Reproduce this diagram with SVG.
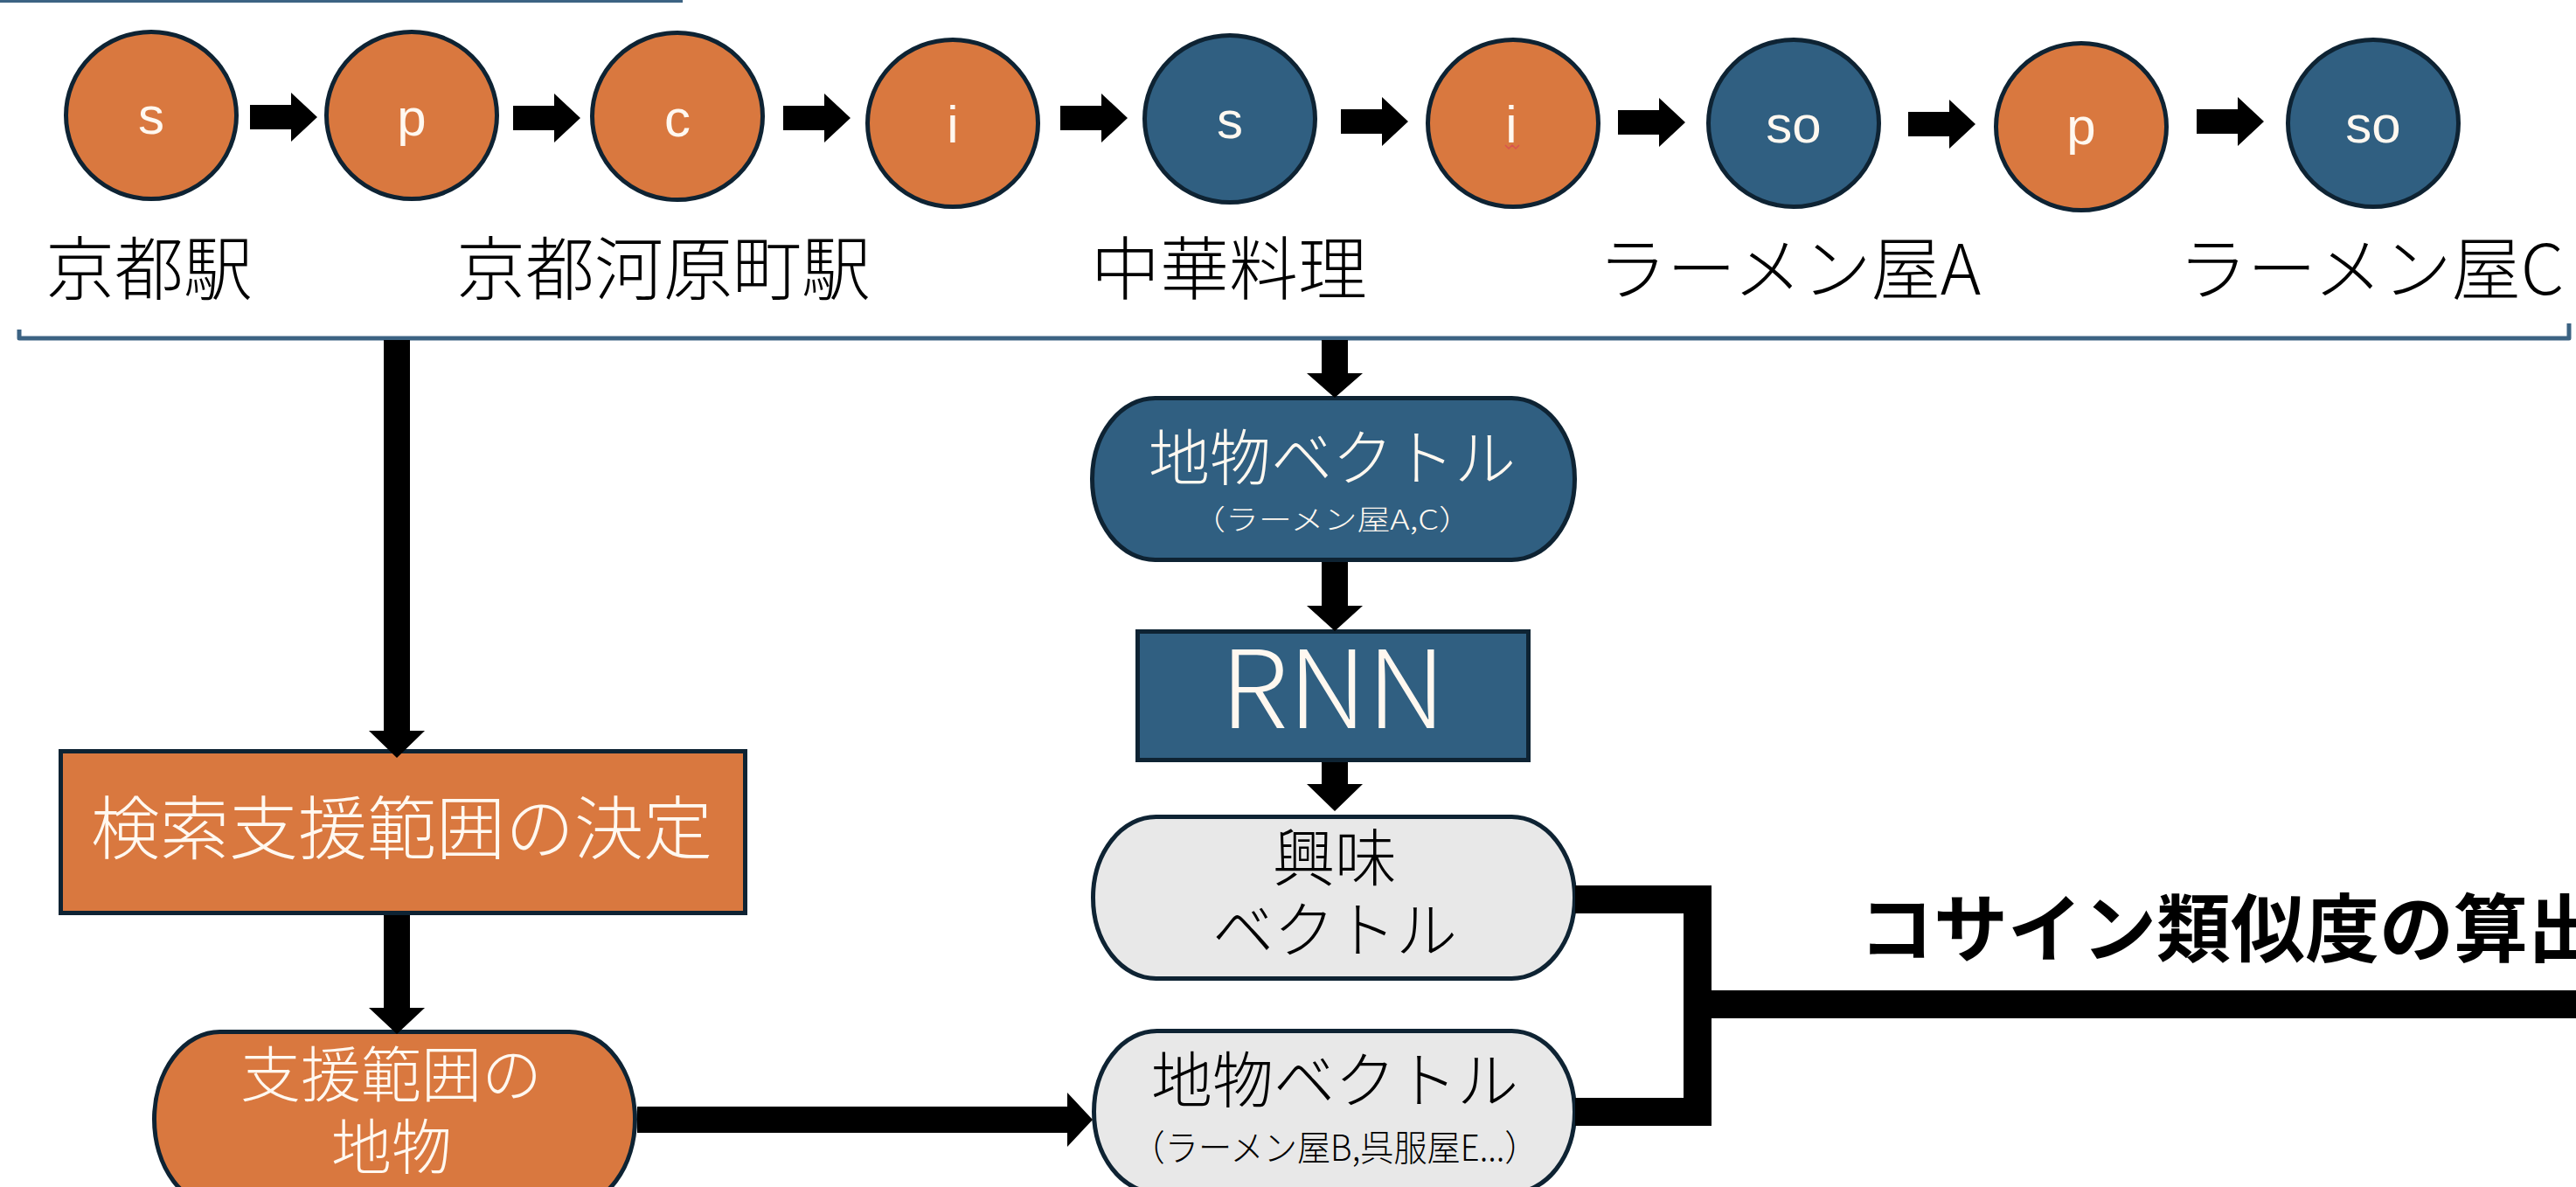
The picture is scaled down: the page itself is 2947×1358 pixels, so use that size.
<svg xmlns="http://www.w3.org/2000/svg" width="2947" height="1358" viewBox="0 0 2947 1358">
<style>
.node{stroke:#0E2333;stroke-width:5}
.or{fill:#D9783F}
.bl{fill:#305F81}
.gr{fill:#E8E8E8}
.ct{font-family:"Liberation Sans",Arial,sans-serif;font-size:60px;fill:#FFF8F0;text-anchor:middle}
.jp{font-family:"Noto Sans CJK JP","Noto Sans CJK SC",sans-serif;font-weight:300}
.blk{fill:#000}
.wt{fill:#FFF8F0}
.mid{text-anchor:middle}
.conn{fill:#000}
.wire{fill:none;stroke:#000;stroke-width:32;stroke-linejoin:miter;stroke-linecap:butt}
.brk{fill:none;stroke:#3C6383;stroke-width:5;stroke-linejoin:round}
</style>
<defs>
<path id="harrow" d="M0,-14 L47,-14 L47,-28 L77,0 L47,28 L47,14 L0,14 Z"/>
</defs>

<rect x="0" y="0" width="781" height="3" fill="#3C6383"/>
<path class="brk" d="M22,377 L22,387 L2939,387 L2939,370"/>

<g id="seq1"><ellipse class="node or" cx="173" cy="132" rx="97.5" ry="95.5"/><text class="ct" x="173" y="153">s</text></g>
<g id="seq2"><ellipse class="node or" cx="471" cy="132" rx="97.5" ry="95.5"/><text class="ct" x="471" y="155">p</text></g>
<g id="seq3"><ellipse class="node or" cx="775" cy="133" rx="97.5" ry="95.5"/><text class="ct" x="775" y="156">c</text></g>
<g id="seq4"><ellipse class="node or" cx="1090" cy="141" rx="97.5" ry="95.5"/><text class="ct" x="1090" y="163">i</text></g>
<g id="seq5"><ellipse class="node bl" cx="1407" cy="136" rx="97.5" ry="95.5"/><text class="ct" x="1407" y="158">s</text></g>
<g id="seq6"><ellipse class="node or" cx="1731" cy="141" rx="97.5" ry="95.5"/><text class="ct" x="1729" y="163">i</text><path d="M1722,166 L1726,170 L1730,166 L1734,170 L1738,166" fill="none" stroke="#D9534F" stroke-width="1.5"/></g>
<g id="seq7"><ellipse class="node bl" cx="2052" cy="141" rx="97.5" ry="95.5"/><text class="ct" x="2052" y="163">so</text></g>
<g id="seq8"><ellipse class="node or" cx="2381" cy="145" rx="97.5" ry="95.5"/><text class="ct" x="2381" y="165">p</text></g>
<g id="seq9"><ellipse class="node bl" cx="2715" cy="141" rx="97.5" ry="95.5"/><text class="ct" x="2715" y="163">so</text></g>

<g id="labels" class="jp blk" font-size="79">
<text x="52" y="337">京都駅</text>
<text x="522" y="337">京都河原町駅</text>
<text x="1248" y="337">中華料理</text>
<text x="1828" y="337">ラーメン屋A</text>
<text x="2492" y="337">ラーメン屋C</text>
</g>

<g id="search-range">
<rect class="node or" x="69.5" y="859.5" width="783" height="185"/>
<text class="jp wt" font-size="79" x="104" y="977">検索支援範囲の決定</text>
</g>

<g id="range-places">
<rect class="node or" x="176.5" y="1180.5" width="550" height="200" rx="75" ry="100"/>
<text class="jp wt" font-size="69" x="275" y="1255">支援範囲の</text>
<text class="jp wt mid" font-size="69" x="448" y="1338">地物</text>
</g>

<g id="place-vec-ac">
<rect class="node bl" x="1249.5" y="455.5" width="552" height="185" rx="72" ry="92.5"/>
<text class="jp wt mid" font-size="70" x="1524" y="550">地物ベクトル</text>
<text class="jp wt mid" font-size="32" x="1524" y="606" textLength="320" lengthAdjust="spacingAndGlyphs">（ラーメン屋A,C）</text>
</g>

<g id="rnn">
<rect class="node bl" x="1301.5" y="722.5" width="447" height="147"/>
<text class="jp wt mid" font-size="124" x="1525" y="833" textLength="258" lengthAdjust="spacingAndGlyphs">RNN</text>
</g>

<g id="interest-vec">
<rect class="node gr" x="1250.5" y="934.5" width="551" height="185" rx="72" ry="92.5"/>
<text class="jp blk mid" font-size="71" x="1527" y="1007">興味</text>
<text class="jp blk mid" font-size="70" x="1527" y="1090">ベクトル</text>
</g>

<g id="place-vec-be">
<rect class="node gr" x="1251.5" y="1179.5" width="550" height="185" rx="72" ry="92.5"/>
<text class="jp blk mid" font-size="70" x="1527" y="1262">地物ベクトル</text>
<text class="jp blk mid" font-size="41" x="1527" y="1328" textLength="465" lengthAdjust="spacingAndGlyphs">（ラーメン屋B,呉服屋E...）</text>
</g>

<g id="cosine">
<text class="jp blk" font-weight="700" font-size="85" x="2127" y="1094" style="font-weight:700">コサイン類似度の算出</text>
</g>

<g id="connectors">
<use href="#harrow" class="conn" x="286" y="134"/>
<use href="#harrow" class="conn" x="587" y="135"/>
<use href="#harrow" class="conn" x="896" y="135"/>
<use href="#harrow" class="conn" x="1213" y="135"/>
<use href="#harrow" class="conn" x="1534" y="139"/>
<use href="#harrow" class="conn" x="1851" y="140"/>
<use href="#harrow" class="conn" x="2183" y="142"/>
<use href="#harrow" class="conn" x="2513" y="139"/>
<path class="conn" d="M439,389 L469,389 L469,836 L486,836 L454,867 L422,836 L439,836 Z"/>
<path class="conn" d="M439,1047 L469,1047 L469,1153 L486,1153 L454,1183 L422,1153 L439,1153 Z"/>
<path class="conn" d="M1512,389 L1542,389 L1542,427 L1559,427 L1527,455 L1495,427 L1512,427 Z"/>
<path class="conn" d="M1512,643 L1542,643 L1542,693 L1559,693 L1527,722 L1495,693 L1512,693 Z"/>
<path class="conn" d="M1512,872 L1542,872 L1542,897 L1559,897 L1527,928 L1495,897 L1512,897 Z"/>
<path class="conn" d="M729,1266 L1221,1266 L1221,1250 L1250,1281 L1221,1312 L1221,1296 L729,1296 Z"/>
<path class="wire" d="M1802,1029 L1942,1029 L1942,1272 L1802,1272"/>
<path class="wire" d="M1942,1149 L2947,1149"/>
</g>
</svg>
